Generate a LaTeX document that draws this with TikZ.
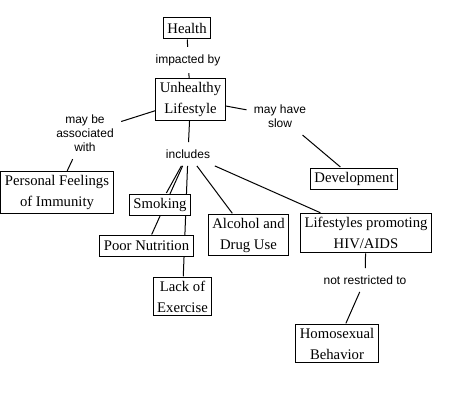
\documentclass[tikz,border=0pt]{standalone}
\usepackage{fontspec}
\usepackage{tikz}
\usetikzlibrary{backgrounds}
\newfontfamily\boxserif{Liberation Serif}
\newfontfamily\labelsans{Liberation Sans}
\newcommand{\conceptfont}{\boxserif\fontsize{14.7}{21}\selectfont}
\newcommand{\linkfont}{\labelsans\fontsize{12}{14.3}\selectfont}
\tikzset{
  concept/.style={rectangle, draw=black, fill=white, line width=1pt,
                  inner xsep=4pt, inner ysep=3.5pt, minimum height=21pt,
                  outer sep=1pt, align=center, font=\conceptfont},
  link/.style={align=center, font=\linkfont, inner sep=3pt, outer sep=4.5pt},
  conn/.style={line width=1pt},
}
\begin{document}
\begin{tikzpicture}[x=1pt, y=-1pt]
  \useasboundingbox (0,0) rectangle (471,405);

  % concepts
  \node[concept] (health) at (187,28)    {Health};
  \node[concept] (unh)    at (190.5,99.5) {Unhealthy\\Lifestyle};
  \node[concept] (pfi)    at (57,192.5)  {Personal Feelings\\of Immunity};
  \node[concept] (dev)    at (354,178.5) {Development};
  \node[concept] (smk)    at (160,204.5) {Smoking};
  \node[concept] (pn)     at (146.5,246) {Poor Nutrition};
  \node[concept] (lack)   at (182.5,296.5) {Lack of\\Exercise};
  \node[concept] (alc)    at (248.5,235) {Alcohol and\\Drug Use};
  \node[concept] (hiv)    at (366,233)   {Lifestyles promoting\\HIV/AIDS};
  \node[concept] (homo)   at (337,343.5) {Homosexual\\Behavior};

  % linking phrases
  \node[link] (impact) at (188,60)  {impacted by};
  \node[link] (assoc)  at (85,133)  {may be\\associated\\with};
  \node[link] (slow)   at (280,116) {may have\\slow};
  \node[link] (incl)   at (188,154) {includes};
  \node[link] (nrt)    at (365,280) {not restricted to};

  \begin{scope}[on background layer]
    \fill[white] (0,0) rectangle (471,405);
    \draw[conn](health)--(impact);
    \draw[conn](impact)--(unh);
    \draw[conn](unh)   --(assoc);
    \draw[conn](assoc) --(pfi);
    \draw[conn](unh)   --(slow);
    \draw[conn](slow)  --(dev);
    \draw[conn](unh)   --(incl);
    \draw[conn](incl)  --(smk);
    \draw[conn](incl)  --(pn);
    \draw[conn](incl)  --(lack);
    \draw[conn](incl)  --(alc);
    \draw[conn](incl)  --(hiv);
    \draw[conn](hiv)   --(nrt);
    \draw[conn](nrt)   --(homo);
  \end{scope}
\end{tikzpicture}
\end{document}
